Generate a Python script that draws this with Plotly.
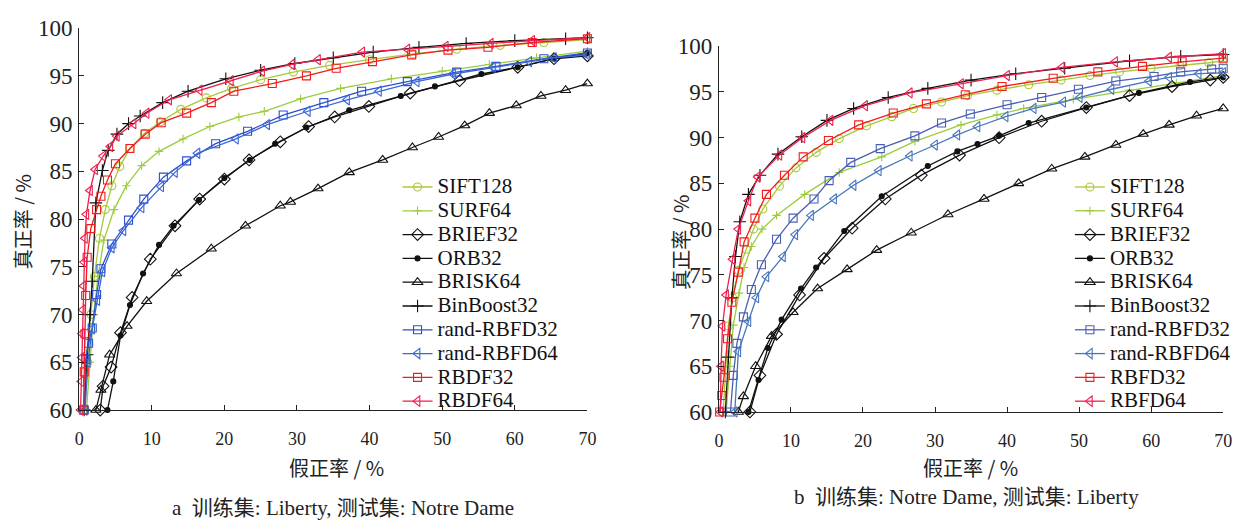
import plotly.graph_objects as go

# ---------------- data: panel a (train Liberty, test Notre Dame) ----------------
a_sift128_x = [0.8, 1.2, 1.6, 2.1, 2.8, 3.6, 4.5, 5.6, 7.0, 9.0, 11.2, 14.0, 17.5, 21.0, 25.0, 29.5, 34.5, 40.0, 46.0, 52.0, 58.0, 64.0, 70.0]
a_sift128_y = [60.0, 65.0, 70.0, 74.0, 78.0, 81.0, 83.5, 85.5, 87.4, 89.0, 90.2, 91.5, 92.7, 93.7, 94.6, 95.4, 96.1, 96.7, 97.3, 97.8, 98.2, 98.5, 98.8]
a_surf64_x = [1.0, 1.5, 2.0, 2.6, 3.4, 4.8, 6.5, 8.6, 11.0, 14.3, 18.0, 22.0, 25.5, 30.5, 36.0, 43.0, 50.0, 56.5, 63.0, 70.0]
a_surf64_y = [60.0, 65.0, 70.0, 74.0, 77.8, 81.0, 83.5, 85.6, 87.1, 88.4, 89.7, 90.7, 91.3, 92.6, 93.7, 94.7, 95.5, 96.2, 96.9, 97.6]
a_brief32_x = [2.9, 3.3, 4.4, 5.7, 7.3, 9.8, 13.2, 16.6, 20.0, 23.4, 27.7, 31.6, 35.2, 39.9, 45.6, 52.4, 60.4, 65.4, 70.0]
a_brief32_y = [60.0, 62.5, 64.5, 68.1, 71.8, 75.8, 79.3, 82.1, 84.2, 86.2, 88.1, 89.7, 90.7, 91.8, 93.2, 94.5, 95.9, 96.8, 97.1]
a_orb32_x = [3.9, 4.7, 5.7, 7.0, 8.8, 11.0, 13.0, 16.5, 20.0, 23.5, 27.0, 31.3, 37.2, 44.3, 49.0, 55.4, 60.4, 65.4, 70.0]
a_orb32_y = [60.0, 63.0, 67.8, 71.0, 74.3, 77.3, 79.3, 82.0, 84.3, 86.2, 87.9, 89.6, 91.4, 92.9, 93.9, 95.2, 95.9, 96.8, 97.4]
a_brisk64_x = [2.3, 3.0, 4.2, 6.6, 9.3, 13.4, 18.2, 22.9, 27.7, 29.1, 32.9, 37.2, 41.8, 45.9, 49.5, 53.1, 56.5, 60.2, 63.6, 67.0, 70.0]
a_brisk64_y = [60.0, 62.1, 65.8, 68.8, 71.4, 74.3, 76.9, 79.3, 81.4, 81.8, 83.2, 84.9, 86.2, 87.5, 88.6, 89.8, 91.1, 91.9, 92.9, 93.5, 94.2]
a_binboost32_x = [0.7, 1.1, 1.5, 1.8, 2.3, 3.2, 4.0, 5.2, 6.8, 8.4, 11.5, 15.0, 20.2, 25.0, 29.7, 35.0, 40.5, 46.8, 53.3, 60.0, 67.0, 70.0]
a_binboost32_y = [60.0, 65.8, 70.0, 73.5, 81.7, 85.1, 87.2, 88.9, 90.0, 90.8, 92.2, 93.4, 94.7, 95.6, 96.3, 96.9, 97.5, 98.0, 98.4, 98.7, 98.9, 99.0]
a_rrbfd32_x = [0.7, 0.9, 1.3, 1.8, 2.4, 3.0, 4.5, 6.8, 8.9, 11.6, 14.8, 18.8, 23.2, 28.1, 33.7, 38.9, 45.2, 52.0, 57.4, 64.0, 70.0]
a_rrbfd32_y = [60.0, 65.3, 67.0, 68.6, 72.1, 74.8, 77.4, 79.9, 82.1, 84.4, 86.1, 87.9, 89.2, 90.9, 92.2, 93.4, 94.4, 95.4, 96.0, 96.8, 97.4]
a_rrbfd64_x = [0.8, 1.2, 1.8, 2.5, 3.2, 4.5, 6.1, 8.6, 11.3, 13.2, 16.3, 21.6, 25.9, 31.5, 36.9, 41.3, 46.5, 51.5, 57.0, 62.0, 65.4, 70.0]
a_rrbfd64_y = [60.0, 65.0, 68.5, 71.5, 74.5, 77.0, 78.8, 81.2, 83.4, 84.9, 86.9, 88.4, 89.9, 91.3, 92.5, 93.4, 94.4, 95.2, 95.9, 96.5, 96.9, 97.2]
a_rbdf32_x = [0.6, 0.7, 0.8, 0.9, 1.1, 1.6, 2.4, 3.0, 3.9, 5.0, 7.0, 9.1, 11.3, 14.8, 18.2, 21.3, 26.6, 31.3, 35.4, 40.4, 45.8, 50.8, 56.3, 62.4, 70.0]
a_rbdf32_y = [60.0, 64.0, 68.0, 72.0, 76.0, 79.0, 81.0, 82.4, 84.1, 85.8, 87.4, 88.9, 90.1, 91.1, 92.2, 93.4, 94.2, 95.0, 95.8, 96.5, 97.2, 97.7, 98.0, 98.5, 98.9]
a_rbdf64_x = [0.2, 0.3, 0.35, 0.4, 0.5, 0.6, 0.7, 0.8, 1.0, 1.5, 2.2, 3.3, 4.3, 5.2, 7.5, 9.3, 12.4, 16.6, 20.9, 25.2, 29.3, 32.9, 39.0, 45.2, 50.5, 56.7, 62.4, 70.0]
a_rbdf64_y = [60.0, 63.0, 65.5, 68.0, 70.5, 73.0, 75.5, 78.0, 80.5, 83.0, 85.2, 86.6, 87.6, 88.7, 90.0, 91.1, 92.5, 93.5, 94.5, 95.5, 96.2, 96.7, 97.5, 97.8, 98.1, 98.4, 98.7, 99.0]

# ---------------- data: panel b (train Notre Dame, test Liberty) ----------------
b_sift128_x = [0.6, 0.9, 1.3, 1.9, 2.7, 3.8, 4.8, 6.1, 8.4, 10.7, 13.5, 16.7, 20.5, 24.0, 27.0, 30.9, 34.5, 38.6, 43.0, 47.5, 51.5, 55.6, 60.0, 64.0, 68.0, 70.0]
b_sift128_y = [60.0, 64.5, 69.4, 72.5, 75.5, 77.8, 80.0, 82.2, 84.7, 86.7, 88.4, 89.9, 91.3, 92.3, 93.2, 93.9, 94.6, 95.2, 95.8, 96.3, 96.8, 97.2, 97.6, 97.9, 98.2, 98.4]
b_surf64_x = [1.0, 1.5, 2.0, 2.8, 3.5, 4.5, 6.0, 8.0, 11.9, 16.7, 22.6, 27.2, 33.6, 38.6, 42.3, 49.2, 57.0, 63.5, 70.0]
b_surf64_y = [60.0, 65.0, 69.5, 73.0, 75.8, 78.1, 80.0, 81.5, 83.8, 86.2, 87.9, 89.6, 91.4, 92.5, 93.2, 94.2, 95.2, 96.0, 96.8]
b_brief32_x = [4.3, 5.7, 8.0, 11.2, 14.6, 18.5, 23.1, 28.1, 33.4, 38.9, 44.8, 51.0, 57.0, 62.9, 68.2, 70.0]
b_brief32_y = [60.0, 64.0, 68.5, 72.8, 76.8, 80.1, 83.3, 85.9, 88.1, 90.0, 91.8, 93.3, 94.6, 95.6, 96.3, 96.6]
b_orb32_x = [4.1, 5.5, 6.8, 8.7, 11.4, 13.5, 17.4, 22.6, 29.0, 33.1, 35.9, 38.9, 43.0, 51.0, 58.3, 65.4, 70.0]
b_orb32_y = [60.0, 63.5, 67.0, 70.1, 73.5, 75.8, 79.8, 83.6, 86.9, 88.5, 89.3, 90.2, 91.6, 93.3, 94.9, 96.1, 96.6]
b_brisk64_x = [2.7, 3.4, 5.1, 7.3, 10.3, 13.7, 17.8, 21.9, 26.7, 31.8, 36.8, 41.6, 46.2, 50.8, 55.1, 58.9, 62.5, 66.3, 70.0]
b_brisk64_y = [60.0, 61.7, 65.0, 68.3, 70.9, 73.5, 75.6, 77.7, 79.6, 81.6, 83.3, 85.0, 86.6, 87.9, 89.2, 90.4, 91.4, 92.4, 93.2]
b_binboost32_x = [0.9, 1.3, 1.8, 2.3, 2.9, 4.1, 5.7, 8.2, 11.5, 15.0, 18.7, 23.5, 29.0, 35.0, 41.2, 48.0, 57.0, 64.1, 70.0]
b_binboost32_y = [60.0, 66.0, 72.5, 77.0, 80.8, 83.8, 85.9, 88.2, 90.1, 91.9, 93.2, 94.4, 95.4, 96.3, 97.0, 97.6, 98.4, 98.9, 99.1]
b_rrbfd32_x = [1.6, 2.0, 2.5, 3.4, 4.5, 5.9, 8.0, 10.3, 13.2, 15.3, 18.3, 22.4, 27.2, 30.9, 34.9, 40.0, 44.8, 49.9, 55.1, 60.4, 64.1, 68.4, 70.0]
b_rrbfd32_y = [60.0, 64.0, 67.5, 70.4, 73.4, 76.1, 78.9, 81.2, 83.3, 85.3, 87.3, 88.8, 90.2, 91.6, 92.6, 93.6, 94.4, 95.3, 96.2, 96.7, 97.2, 97.5, 97.6]
b_rrbfd64_x = [2.2, 2.7, 4.1, 5.2, 6.6, 8.9, 10.6, 12.8, 16.0, 18.7, 22.2, 26.5, 30.0, 33.1, 35.9, 39.8, 43.7, 47.8, 50.1, 54.5, 59.7, 62.5, 66.6, 70.0]
b_rrbfd64_y = [60.0, 66.6, 69.9, 72.5, 74.8, 77.0, 79.4, 81.5, 83.3, 84.8, 86.4, 88.0, 89.2, 90.3, 91.2, 92.3, 93.2, 93.9, 94.4, 95.3, 96.2, 96.6, 97.0, 97.1]
b_rbfd32_x = [0.1, 0.4, 0.7, 1.2, 1.8, 2.7, 3.5, 5.0, 6.6, 9.1, 11.7, 15.2, 19.4, 24.2, 28.8, 34.2, 39.3, 46.4, 52.6, 58.8, 64.3, 70.0]
b_rbfd32_y = [60.0, 61.8, 63.8, 68.0, 72.0, 75.3, 78.6, 81.2, 83.8, 85.9, 87.9, 89.7, 91.4, 92.7, 93.7, 94.7, 95.6, 96.5, 97.2, 97.8, 98.3, 98.7]
b_rbfd64_x = [0.2, 0.3, 0.5, 1.0, 1.9, 2.7, 4.1, 5.4, 8.4, 11.6, 15.5, 20.3, 26.5, 33.6, 40.0, 47.6, 55.0, 62.5, 70.0]
b_rbfd64_y = [60.0, 65.0, 69.4, 72.8, 76.7, 80.0, 83.1, 85.7, 88.1, 90.0, 91.9, 93.5, 94.9, 95.9, 96.8, 97.7, 98.3, 98.8, 99.2]

x_ticks = [0, 10, 20, 30, 40, 50, 60, 70]
y_ticks = [60, 65, 70, 75, 80, 85, 90, 95, 100]

names_a = ["SIFT128", "SURF64", "BRIEF32", "ORB32", "BRISK64", "BinBoost32",
           "rand-RBFD32", "rand-RBFD64", "RBDF32", "RBDF64"]
names_b = ["SIFT128", "SURF64", "BRIEF32", "ORB32", "BRISK64", "BinBoost32",
           "rand-RBFD32", "rand-RBFD64", "RBFD32", "RBFD64"]

series_a = [(a_sift128_x, a_sift128_y), (a_surf64_x, a_surf64_y), (a_brief32_x, a_brief32_y),
            (a_orb32_x, a_orb32_y), (a_brisk64_x, a_brisk64_y), (a_binboost32_x, a_binboost32_y),
            (a_rrbfd32_x, a_rrbfd32_y), (a_rrbfd64_x, a_rrbfd64_y), (a_rbdf32_x, a_rbdf32_y),
            (a_rbdf64_x, a_rbdf64_y)]
series_b = [(b_sift128_x, b_sift128_y), (b_surf64_x, b_surf64_y), (b_brief32_x, b_brief32_y),
            (b_orb32_x, b_orb32_y), (b_brisk64_x, b_brisk64_y), (b_binboost32_x, b_binboost32_y),
            (b_rrbfd32_x, b_rrbfd32_y), (b_rrbfd64_x, b_rrbfd64_y), (b_rbfd32_x, b_rbfd32_y),
            (b_rbfd64_x, b_rbfd64_y)]

# line colour, marker symbol, marker size
styles_a = [
    ("#a9c83a", "circle-open", 8),
    ("#9ccc3c", "cross-thin-open", 6),
    ("#111111", "diamond-open", 9),
    ("#111111", "circle", 5),
    ("#111111", "triangle-up-open", 9),
    ("#111111", "cross-thin-open", 9),
    ("#2b4fcf", "square-open", 8),
    ("#3a66d6", "triangle-left-open", 9),
    ("#f21c1c", "square-open", 8),
    ("#ee1f4e", "triangle-left-open", 9),
]
styles_b = list(styles_a)
styles_b[6] = ("#4a5fb4", "square-open", 8)
styles_b[7] = ("#4677bd", "triangle-left-open", 9)

SERIF = "Liberation Serif, Times New Roman, Noto Sans CJK SC, serif"
CJK = "Noto Sans CJK SC, sans-serif"
LEGEND_TEXT_PX = 21

fig = go.Figure()


def add_panel(series, names, styles, xa, ya, legend):
    for (xs, ys), name, (col, sym, size) in zip(series, names, styles):
        fig.add_trace(go.Scatter(
            x=xs, y=ys, mode="lines+markers",
            name=f"<span style='font-size:{LEGEND_TEXT_PX}px'>{name}</span>",
            xaxis=xa, yaxis=ya, legend=legend, cliponaxis=False,
            line=dict(color=col, width=1.3),
            marker=dict(symbol=sym, size=size, color=col,
                        line=dict(color=col, width=1.1)),
        ))


add_panel(series_a, names_a, styles_a, "x", "y", "legend")
add_panel(series_b, names_b, styles_b, "x2", "y2", "legend2")

W, H = 1249, 524


def xdom(p0, p1):
    return [p0 / W, p1 / W]


def ydom(top, bottom):
    return [1 - bottom / H, 1 - top / H]


axis_common = dict(showline=True, linecolor="#222222", linewidth=1.2,
                   ticks="inside", ticklen=5, tickcolor="#222222",
                   showgrid=False, zeroline=False, mirror=False)
xfont = dict(family=SERIF, size=18, color="#222")
yfont = dict(family=SERIF, size=23, color="#222")

fig.update_layout(
    width=W, height=H,
    margin=dict(l=0, r=0, t=0, b=0),
    paper_bgcolor="white", plot_bgcolor="white",
    xaxis=dict(domain=xdom(75, 589), range=[0, 70], tickvals=x_ticks, anchor="y",
               tickfont=xfont, ticklabelstandoff=12, **axis_common),
    yaxis=dict(domain=ydom(17, 418), range=[60, 100], tickvals=y_ticks, anchor="x",
               tickfont=yfont, ticklabelstandoff=1, **axis_common),
    xaxis2=dict(domain=xdom(722, 1232), range=[0, 70], tickvals=x_ticks, anchor="y2",
                tickfont=xfont, ticklabelstandoff=12, **axis_common),
    yaxis2=dict(domain=ydom(36, 420), range=[60, 100], tickvals=y_ticks, anchor="x2",
                tickfont=yfont, ticklabelstandoff=1, **axis_common),
    legend=dict(x=397 / W, y=1 - 166 / H, xanchor="left", yanchor="top",
                bgcolor="rgba(0,0,0,0)", font=dict(family=SERIF, size=16, color="#111"),
                tracegroupgap=0, itemwidth=30),
    legend2=dict(x=1077 / W, y=1 - 166 / H, xanchor="left", yanchor="top",
                 bgcolor="rgba(0,0,0,0)", font=dict(family=SERIF, size=16, color="#111"),
                 tracegroupgap=0, itemwidth=30),
    showlegend=True,
)

annotations = [
    dict(text="真正率 / %", x=18 / W, y=1 - 220 / H, textangle=-90,
         font=dict(family=CJK, size=20, color="#222")),
    dict(text="假正率 / %", x=335 / W, y=1 - 478 / H,
         font=dict(family=CJK, size=20, color="#222")),
    dict(text="a  训练集: Liberty, 测试集: Notre Dame", x=342 / W, y=1 - 521 / H,
         font=dict(family=SERIF, size=21, color="#222")),
    dict(text="真正率 / %", x=683 / W, y=1 - 242 / H, textangle=-90,
         font=dict(family=CJK, size=20, color="#222")),
    dict(text="假正率 / %", x=976 / W, y=1 - 478 / H,
         font=dict(family=CJK, size=20, color="#222")),
    dict(text="b  训练集: Notre Dame, 测试集: Liberty", x=972 / W, y=1 - 509 / H,
         font=dict(family=SERIF, size=21, color="#222")),
]
for a in annotations:
    a.update(xref="paper", yref="paper", showarrow=False, xanchor="center", yanchor="middle")
fig.update_layout(annotations=annotations)

fig.write_html("out.html")
